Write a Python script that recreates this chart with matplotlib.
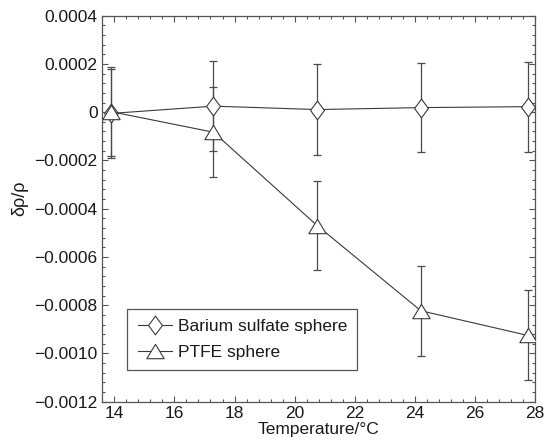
import matplotlib
matplotlib.use("Agg")
import matplotlib.pyplot as plt
from matplotlib.path import Path
from matplotlib.ticker import AutoMinorLocator, FuncFormatter, MultipleLocator

# Data
temps = [13.9, 17.3, 20.75, 24.2, 27.75]
barium = [-0.000005, 0.000025, 0.000011, 0.000019, 0.000023]
barium_err = [0.000186, 0.000187, 0.000187, 0.000186, 0.000186]
ptfe = [0.000002, -0.000083, -0.00047, -0.000823, -0.000925]
ptfe_err = [0.000185, 0.000187, 0.000186, 0.000186, 0.000186]
labels = ["Barium sulfate sphere", "PTFE sphere"]

plt.rcParams['font.family'] = ['Liberation Sans', 'DejaVu Sans']
plt.rcParams['font.size'] = 12.5

# tall diamond and wide triangle markers
diamond = Path([(0, 1), (0.74, 0), (0, -1), (-0.74, 0), (0, 1)],
               [Path.MOVETO, Path.LINETO, Path.LINETO, Path.LINETO, Path.CLOSEPOLY])
triangle = Path([(0, 0.83), (1, -0.83), (-1, -0.83), (0, 0.83)],
                [Path.MOVETO, Path.LINETO, Path.LINETO, Path.CLOSEPOLY])

fig = plt.figure(figsize=(5.45, 4.47), dpi=100)
ax = fig.add_axes([0.1866, 0.1013, 0.7951, 0.8636])

line_col = '#3a3a3a'
err_col = '#4a4a4a'

ax.errorbar(temps, barium, yerr=barium_err, fmt='none', ecolor=err_col,
            elinewidth=0.9, capsize=3, capthick=0.9, zorder=1)
ax.errorbar(temps, ptfe, yerr=ptfe_err, fmt='none', ecolor=err_col,
            elinewidth=0.9, capsize=3, capthick=0.9, zorder=1)

ax.plot(temps, barium, color=line_col, lw=0.8, marker=diamond, markersize=13.5,
        markerfacecolor='white', markeredgecolor=line_col, markeredgewidth=0.8,
        label=labels[0], zorder=3)
ax.plot(temps, ptfe, color=line_col, lw=0.8, marker=triangle, markersize=12.5,
        markerfacecolor='white', markeredgecolor=line_col, markeredgewidth=0.8,
        label=labels[1], zorder=3)

ax.set_xlim(13.58, 28.0)
ax.set_ylim(-0.0012, 0.0004)
ax.xaxis.set_major_locator(MultipleLocator(2))
ax.yaxis.set_major_locator(MultipleLocator(0.0002))
ax.xaxis.set_minor_locator(AutoMinorLocator(5))
ax.yaxis.set_minor_locator(AutoMinorLocator(5))


def yfmt(v, pos):
    if abs(v) < 1e-10:
        return "0"
    return f"{v:.4f}".replace("-", "\u2212")


ax.yaxis.set_major_formatter(FuncFormatter(yfmt))

ax.tick_params(which='both', direction='in', top=True, right=True,
               color='#555555', width=0.8, labelcolor='#1a1a1a')
ax.tick_params(which='major', length=4, pad=3)
ax.tick_params(which='minor', length=2)
for s in ax.spines.values():
    s.set_color('#555555')
    s.set_linewidth(0.9)

ax.set_xlabel("Temperature/\u00b0C", labelpad=1, color='#1a1a1a')
ax.set_ylabel("\u03b4\u03c1/\u03c1", color='#1a1a1a', fontsize=13)
ax.yaxis.set_label_coords(-0.17, 0.528)

leg = ax.legend(loc='lower left', bbox_to_anchor=(0.059, 0.082), borderaxespad=0,
                fancybox=False, edgecolor='#555555', framealpha=1,
                handlelength=2.0, handletextpad=0.3, borderpad=0.6,
                labelspacing=0.6)
leg.get_frame().set_linewidth(0.9)
for t in leg.get_texts():
    t.set_color('#1a1a1a')

plt.savefig("out.png", dpi=100)
plt.close()
